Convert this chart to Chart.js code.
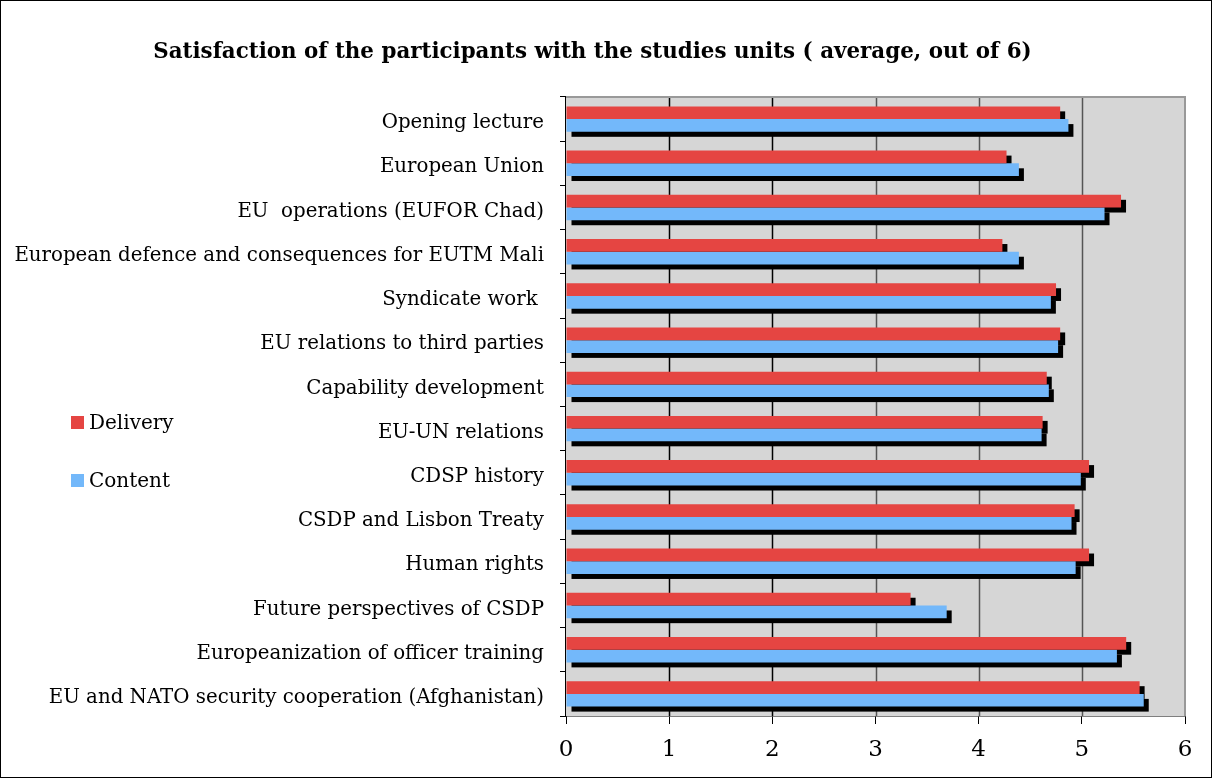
<!DOCTYPE html>
<html>
<head>
<meta charset="utf-8">
<script src="https://cdn.jsdelivr.net/npm/chart.js@4"></script>
<style>
  body { margin: 0; background: #fff; }
  #wrap { width: 1212px; height: 778px; position: relative; }
</style>
</head>
<body>
<div id="wrap"><canvas id="satisfactionChart"></canvas></div>
<script>
// values
const units = [
    'Opening lecture',
    'European Union',
    'EU  operations (EUFOR Chad)',
    'European defence and consequences for EUTM Mali',
    'Syndicate work ',
    'EU relations to third parties',
    'Capability development',
    'EU-UN relations',
    'CDSP history',
    'CSDP and Lisbon Treaty',
    'Human rights',
    'Future perspectives of CSDP',
    'Europeanization of officer training',
    'EU and NATO security cooperation (Afghanistan)'
];
const delivery = [4.79, 4.27, 5.38, 4.23, 4.75, 4.79, 4.66, 4.62, 5.07, 4.93, 5.07, 3.34, 5.43, 5.56];
const content = [4.87, 4.39, 5.22, 4.39, 4.70, 4.77, 4.68, 4.61, 4.99, 4.90, 4.94, 3.69, 5.34, 5.60];
const seriesNames = ['Delivery', 'Content'];
const seriesColors = ['#E54542', '#73B8FA'];
const titleText = 'Satisfaction of the participants with the studies units ( average, out of 6)';

// grey plot background + frame, and the black drop shadows under the bars
const plotDecor = {
    id: 'plotDecor',
    beforeDatasetsDraw: function (chart) {
        var ctx = chart.ctx;
        var a = chart.chartArea;
        ctx.save();
        ctx.fillStyle = '#D6D6D6';
        ctx.fillRect(a.left, a.top, a.right - a.left, a.bottom - a.top);
        // redraw the gridlines on top of the fill
        var xs = chart.scales.x;
        for (var v = 1; v <= 5; v++) {
            var px = Math.round(xs.getPixelForValue(v)) + 0.5;
            ctx.strokeStyle = v <= 2 ? '#000' : '#555';
            ctx.lineWidth = 1.5;
            ctx.beginPath();
            ctx.moveTo(px, a.top);
            ctx.lineTo(px, a.bottom);
            ctx.stroke();
        }
        ctx.strokeStyle = '#999';
        ctx.lineWidth = 2;
        ctx.beginPath();
        ctx.moveTo(a.left, a.top);
        ctx.lineTo(a.right, a.top);
        ctx.lineTo(a.right, a.bottom);
        ctx.stroke();
        // shadows
        ctx.fillStyle = '#000';
        chart.data.datasets.forEach(function (dataset, i) {
            var meta = chart.getDatasetMeta(i);
            meta.data.forEach(function (bar) {
                var top = bar.y - bar.height / 2;
                ctx.fillRect(bar.base + 5, top + 5, bar.x - bar.base, bar.height);
            });
        });
        ctx.restore();
    },
    afterDraw: function (chart) {
        var ctx = chart.ctx;
        ctx.save();
        // legend on the left side
        ctx.font = '20px "DejaVu Serif"';
        ctx.textAlign = 'left';
        ctx.textBaseline = 'middle';
        var rows = [422, 480];
        seriesNames.forEach(function (name, i) {
            ctx.fillStyle = seriesColors[i];
            ctx.fillRect(71, rows[i] - 6, 13, 13);
            ctx.fillStyle = '#000';
            ctx.fillText(name, 89, rows[i] + 2);
        });
        // outer frame
        ctx.strokeStyle = '#000';
        ctx.lineWidth = 1;
        ctx.strokeRect(0.5, 0.5, chart.width - 1, chart.height - 1);
        ctx.restore();
    }
};

const satisfactionChart = new Chart(document.getElementById('satisfactionChart'), {
    type: 'bar',
    data: {
        labels: units,
        datasets: [{
            label: seriesNames[0],
            data: delivery,
            backgroundColor: seriesColors[0],
            borderWidth: 0,
            categoryPercentage: 0.575,
            barPercentage: 1.0
        }, {
            label: seriesNames[1],
            data: content,
            backgroundColor: seriesColors[1],
            borderWidth: 0,
            categoryPercentage: 0.575,
            barPercentage: 1.0
        }]
    },
    options: {
        indexAxis: 'y',
        responsive: true,
        maintainAspectRatio: false,
        animation: false,
        layout: {
            padding: { left: 0, right: 27, top: 0, bottom: 0 }
        },
        plugins: {
            legend: { display: false },
            tooltip: { enabled: false },
            title: {
                display: true,
                text: titleText,
                color: '#000',
                font: { family: '"DejaVu Serif"', size: 21.4, weight: 'bold', lineHeight: 1.2 },
                padding: { top: 40, bottom: 31.3 }
            }
        },
        scales: {
            x: {
                min: 0,
                max: 6,
                ticks: {
                    stepSize: 1,
                    color: '#000',
                    padding: 12,
                    font: { family: '"DejaVu Serif"', size: 23 }
                },
                grid: {
                    display: true,
                    drawOnChartArea: false,
                    drawTicks: true,
                    tickLength: 8,
                    color: '#000'
                },
                border: { color: '#000', width: 1.5 },
                afterFit: function (scale) { scale.height = 62; }
            },
            y: {
                ticks: {
                    color: '#000',
                    padding: 16,
                    labelOffset: 4,
                    font: { family: '"DejaVu Serif"', size: 19.8 }
                },
                grid: {
                    drawOnChartArea: false,
                    drawTicks: true,
                    tickLength: 6,
                    color: '#000'
                },
                border: { color: '#000', width: 1.5 },
                afterFit: function (scale) { scale.width = 566; }
            }
        }
    },
    plugins: [plotDecor]
});
</script>
</body>
</html>
